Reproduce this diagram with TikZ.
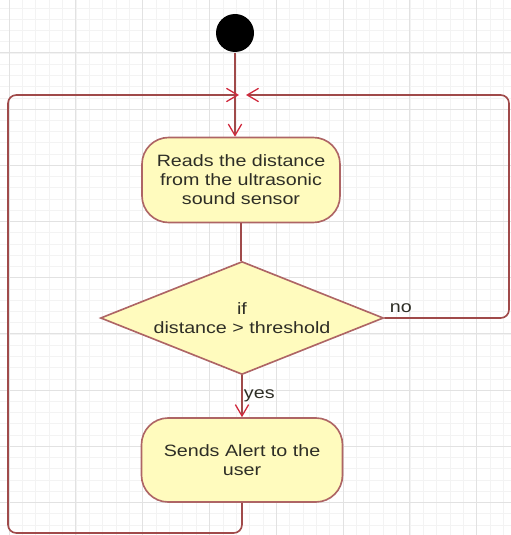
\documentclass[tikz,border=0pt]{standalone}
\usepackage{fontspec}
\setmainfont[FakeStretch=1.2]{Liberation Sans}
\usetikzlibrary{shapes.geometric,arrows.meta}
\definecolor{umlline}{HTML}{A04A4A}
\definecolor{umltip}{HTML}{D0283C}
\definecolor{umlfill}{HTML}{FFFBBE}
\definecolor{umltext}{HTML}{2E2E26}
\definecolor{gridmin}{HTML}{F3F3F3}
\definecolor{gridmaj}{HTML}{E2E2E2}
\begin{document}
\begin{tikzpicture}[x=0.03cm,y=-0.03cm,line width=1.4pt,
  >={Straight Barb[length=3.4mm,width=4mm,line width=1.1pt,color=umltip]},
  font=\fontsize{14}{16.2}\selectfont,
  activity/.style={draw=umlline!85,fill=umlfill,rounded corners=0.8cm,text=umltext,align=center,inner sep=0pt},
  decision/.style={diamond,draw=umlline!85,fill=umlfill,text=umltext,align=center,inner sep=0pt,aspect=2.5,minimum width=8.49cm,minimum height=3.39cm},
  flow/.style={draw=umlline,rounded corners=0.25cm}]
\useasboundingbox (0,0) rectangle (511,535);
% background grid
\begin{scope}
\clip (0,0) rectangle (511,535);
\foreach \i in {-1,...,38} \draw[gridmin,line width=0.4pt] ({9+13.36*\i},0) -- ++(0,535);
\foreach \j in {-10,...,38} \draw[gridmin,line width=0.4pt] (0,{109+11.24*\j}) -- ++(511,0);
\foreach \i in {0,...,7} \draw[gridmaj,line width=0.6pt] ({9+66.8*\i},0) -- ++(0,535);
\foreach \j in {-2,...,8} \draw[gridmaj,line width=0.6pt] (0,{109+56.2*\j}) -- ++(511,0);
\end{scope}
% nodes
\node[circle,fill=black,minimum size=1.14cm,inner sep=0pt] (start) at (235,33) {};
\coordinate (mergeL) at (239,95);
\coordinate (mergeR) at (246,95);
\coordinate (ne) at (509,95);
\coordinate (sw) at (8,533);
\node[activity,minimum width=5.94cm,minimum height=2.55cm] (reads) at (241,180) {Reads the distance\\from the ultrasonic\\sound sensor};
\node[decision] (check) at (242,318) {if\\distance > threshold};
\node[activity,minimum width=6.03cm,minimum height=2.52cm] (alert) at (242,460) {Sends Alert to the\\user};
% flows
\draw[flow,->] (start) -- (start |- reads.north);
\draw[flow] (reads.south) -- (reads.south |- check.north);
\draw[flow,->] (check.south) -- node[right,inner sep=1pt,text=umltext]{yes} (alert.north);
\draw[flow,->] (check.east) -- node[pos=0,anchor=south west,inner sep=0pt,xshift=4pt,yshift=4pt,text=umltext]{no} (check.east -| ne) -- (ne) -- (mergeR);
\draw[flow,->] (alert.south) -- (alert.south |- sw) -- (sw) -- (sw |- mergeL) -- (mergeL);
\end{tikzpicture}
\end{document}
